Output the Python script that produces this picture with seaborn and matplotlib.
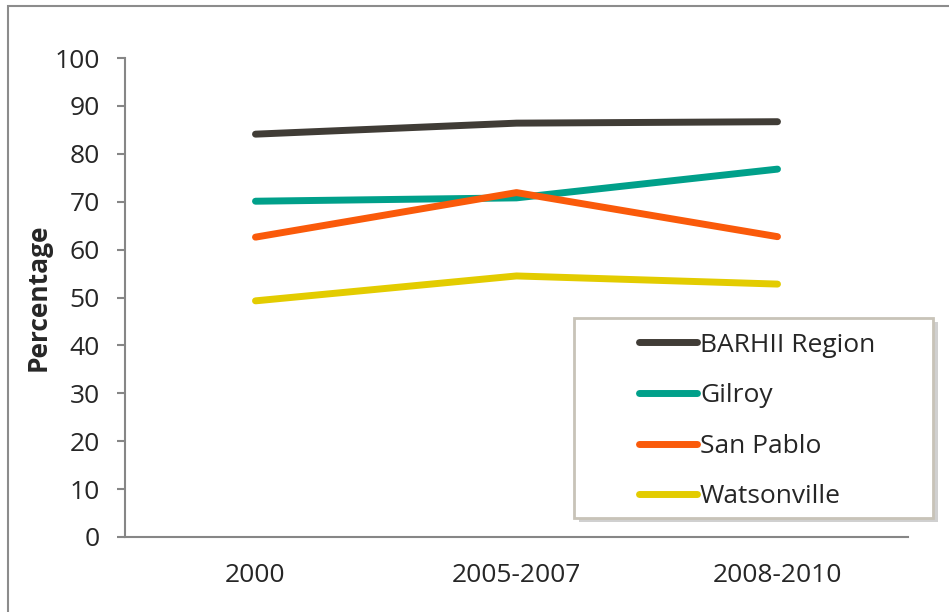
import pandas as pd
import numpy as np
import matplotlib.pyplot as plt
import seaborn as sns
from matplotlib.patches import Rectangle

# data
periods = ['2000', '2005-2007', '2008-2010']
barhii = [84.1, 86.4, 86.7]
gilroy = [70.1, 70.8, 76.8]
san_pablo = [62.6, 71.9, 62.7]
watsonville = [49.3, 54.5, 52.8]
series_names = ['BARHII Region', 'Gilroy', 'San Pablo', 'Watsonville']
colors = ['#403c36', '#00a08a', '#fa5a0a', '#e3cc00']

df = pd.DataFrame({
    'period': periods * 4,
    'value': barhii + gilroy + san_pablo + watsonville,
    'series': [s for s in series_names for _ in periods],
})
df['x'] = df['period'].map({p: i for i, p in enumerate(periods)})

sns.set_style('white')
plt.rcParams['font.family'] = ['Open Sans', 'DejaVu Sans']
fs = 19

fig = plt.figure(figsize=(9.49, 6.12), dpi=100)
ax = fig.add_axes([125 / 949, 75 / 612, 783 / 949, 479 / 612])

sns.lineplot(data=df, x='x', y='value', hue='series', palette=colors,
             linewidth=5, ax=ax, legend=False, sort=False)
for line in ax.lines:
    line.set_solid_capstyle('round')

# axes
ax.set_ylim(0, 100)
ax.set_xlim(-0.5, 2.5)
ax.set_yticks(np.arange(0, 101, 10))
ax.set_xticks([-0.5, 0.5, 1.5, 2.5])
ax.set_xticklabels([])
ax.set_xticks(range(len(periods)), labels=periods, minor=True)
ax.tick_params(axis='x', which='minor', length=0, pad=19, labelsize=fs)
ax.tick_params(axis='x', which='major', length=7, width=1.5, color='#868686', direction='out')
ax.tick_params(axis='y', length=6, width=1.5, color='#868686', pad=12, labelsize=fs, left=True)
ax.set_xlabel('')
ax.set_ylabel('Percentage', fontsize=fs, fontweight='bold', labelpad=2)
sns.despine(ax=ax)
for s in ['left', 'bottom']:
    ax.spines[s].set_color('#868686')
    ax.spines[s].set_linewidth(1.5)

# legend with box drawn by hand
handles = [plt.Line2D([], [], color=c, lw=5, solid_capstyle='round') for c in colors]
ax.legend(handles, series_names, loc='center left', bbox_to_anchor=(0.64, 0.242),
          frameon=False, fontsize=fs, handlelength=2.2, handletextpad=0.1,
          labelspacing=0.97, borderpad=0)
x0, y0 = (574 - 125) / 783, (537 - 518) / 479
w, h = (933 - 574) / 783, (518 - 318) / 479
ax.add_patch(Rectangle((x0 + 0.006, y0 - 0.008), w, h, transform=ax.transAxes,
                       facecolor='#d0d0d0', edgecolor='none', clip_on=False, zorder=4))
ax.add_patch(Rectangle((x0, y0), w, h, transform=ax.transAxes, facecolor='white',
                       edgecolor='#c8c3b8', lw=2, clip_on=False, zorder=4.5))
ax.get_legend().set_zorder(5)

# outer frame (top and left visible)
fig.add_artist(Rectangle((8 / 949, -0.1), 1.2, 1.1 - 6 / 612, transform=fig.transFigure,
                         facecolor='none', edgecolor='#8c8c8c', lw=1.5, clip_on=False))

fig.savefig('out.png', dpi=100)
